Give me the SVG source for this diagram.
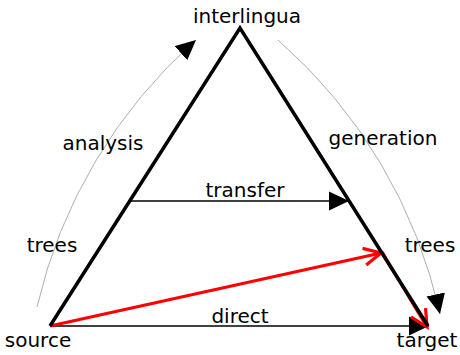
<svg xmlns="http://www.w3.org/2000/svg" width="460" height="355" viewBox="0 0 460 355">
<style>
text{font-family:"DejaVu Sans",sans-serif;font-size:20px;fill:#000;text-anchor:middle}
.edge{fill:none;stroke:#000;stroke-width:3.5;stroke-linejoin:miter}
.arr{fill:none;stroke:#000;stroke-width:1.5}
.arc{fill:none;stroke:#999;stroke-width:0.8}
.red{fill:none;stroke:#f00;stroke-width:3.2}
</style>
<defs>
<marker id="tri" markerUnits="userSpaceOnUse" markerWidth="20" markerHeight="20" viewBox="0 0 17 16" refX="17" refY="8" orient="auto"><path d="M0,0 L17,8 L0,16 z" fill="#000"/></marker>
<marker id="chev" markerUnits="userSpaceOnUse" markerWidth="24" markerHeight="24" viewBox="-20 -12 24 24" refX="0" refY="0" orient="auto"><path d="M-17,-8.5 L0,0 L-17,8.5" fill="none" stroke="#f00" stroke-width="3.2"/></marker>
</defs>
<g id="connectors">
<path class="arc" d="M37,307 A509,509 0 0 1 196,40" marker-end="url(#tri)"/>
<path class="arc" d="M278,40 A509,509 0 0 1 440,314" marker-end="url(#tri)"/>
<line class="arr" x1="130" y1="201" x2="349" y2="201" marker-end="url(#tri)"/>
<line class="arr" x1="50" y1="326" x2="429" y2="326" marker-end="url(#tri)"/>
<line class="red" x1="50" y1="326" x2="381" y2="253" marker-end="url(#chev)"/>
<line class="red" x1="382" y1="252" x2="427" y2="327" marker-end="url(#chev)"/>
</g>
<g id="triangle"><polyline class="edge" points="50,326 240,28 428,326"/></g>
<g id="interlingua"><text x="247" y="23">interlingua</text></g>
<g id="source"><text x="38" y="347">source</text></g>
<g id="target"><text x="427" y="347">target</text></g>
<g id="labels">
<text x="103" y="150">analysis</text>
<text x="52" y="252">trees</text>
<text x="245" y="197">transfer</text>
<text x="383" y="145">generation</text>
<text x="430" y="252">trees</text>
<text x="240" y="323">direct</text>
</g>
</svg>
